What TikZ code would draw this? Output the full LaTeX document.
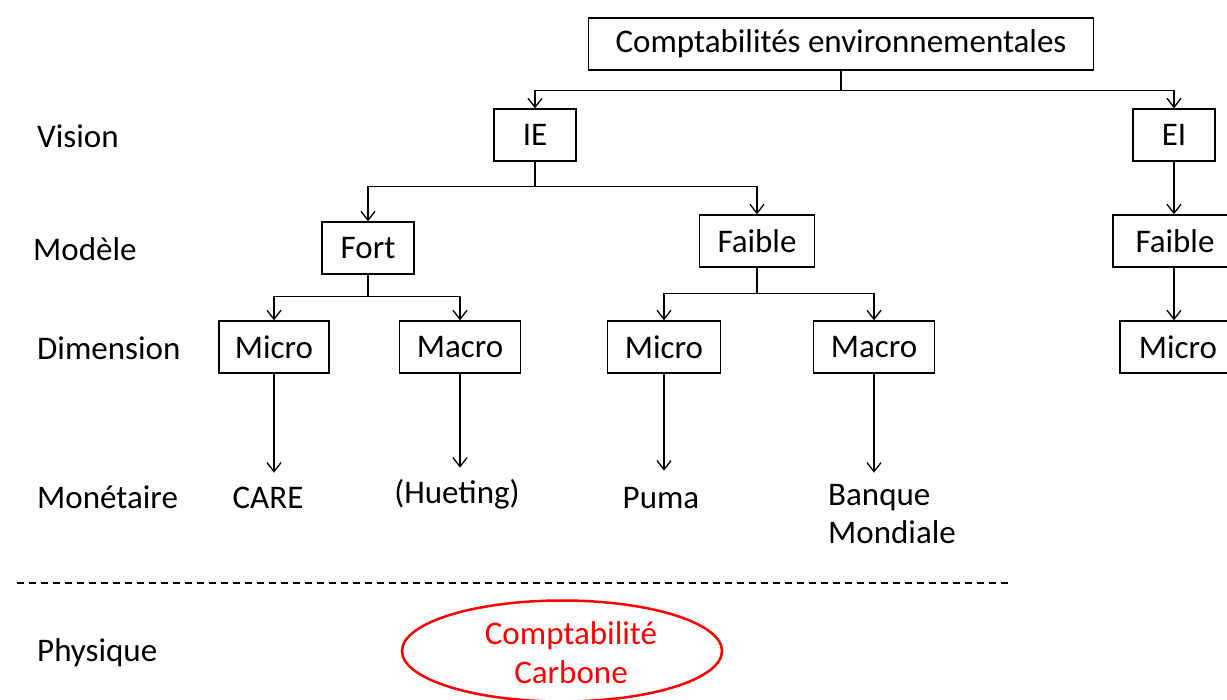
\documentclass[tikz,border=0pt]{standalone}
\usepackage{fontspec}
\setmainfont{Carlito}
\usetikzlibrary{arrows.meta,shapes.geometric}

\begin{document}
\begin{tikzpicture}[x=1pt,y=-1pt,
        txt/.style={font=\fontsize{33}{38}\selectfont},
        box/.style={txt,draw,line width=1.3pt,minimum height=52pt,inner sep=0pt},
        lbl/.style={txt,anchor=west,inner sep=0pt},
        arr/.style={line width=1.3pt,-{Straight Barb[length=9pt,width=14pt]}}]
        \useasboundingbox (0,0) rectangle (1227,700);

        % niveaux a gauche
        \node[lbl] (vision) at (37,136) {Vision};
        \node[lbl] (modele) at (33,249) {Modèle};
        \node[lbl] (dimension) at (37,348) {Dimension};
        \node[lbl] (monetaire) at (37,497) {Monétaire};
        \node[lbl] (physique) at (37,653) {Physique};

        % arbre
        \node[box,minimum width=505pt] (compta) at (841,44) {Comptabilités environnementales};
        \node[box,minimum width=82pt] (ie) at (535,135) {IE};
        \node[box,minimum width=82pt] (ei) at (1174,135) {EI};
        \node[box,minimum width=92pt] (fort) at (368,248) {Fort};
        \node[box,minimum width=115pt] (faibleIE) at (757,241) {Faible};
        \node[box,minimum width=124pt] (faibleEI) at (1175,241) {Faible};
        \node[box,minimum width=110pt] (microF) at (274,347) {Micro};
        \node[box,minimum width=121pt] (macroF) at (460,347) {Macro};
        \node[box,minimum width=113pt] (microf) at (664,347) {Micro};
        \node[box,minimum width=121pt] (macrof) at (874,347) {Macro};
        \node[box,minimum width=116pt] (microEI) at (1178,347) {Micro};

        \node[txt] (care) at (268,498) {CARE};
        \node[txt] (hueting) at (457,494) {(Hueting)};
        \node[txt] (puma) at (661,498) {Puma};
        \node[txt,anchor=west,align=left,inner sep=0pt] (banque) at (828,514) {Banque\\Mondiale};

        \draw[arr]
            (compta.south) -- ++(0,20) -| (ie.north);
        \draw[arr]
            (compta.south) -- ++(0,20) -| (ei.north);
        \draw[arr]
            (ie.south) -- ++(0,25) -| (fort.north);
        \draw[arr]
            (ie.south) -- ++(0,25) -| (faibleIE.north);
        \draw[arr] (ei.south) -- (ei.south |- faibleEI.north);
        \draw[arr]
            (fort.south) -- ++(0,22) -| (microF.north);
        \draw[arr]
            (fort.south) -- ++(0,22) -| (macroF.north);
        \draw[arr]
            (faibleIE.south) -- ++(0,26) -| (microf.north);
        \draw[arr]
            (faibleIE.south) -- ++(0,26) -| (macrof.north);
        \draw[arr] (ei.south |- faibleEI.south) -- (ei.south |- microEI.north);

        \draw[arr] (microF.south) -- ++(0,99);
        \draw[arr] (macroF.south) -- ++(0,94);
        \draw[arr] (microf.south) -- ++(0,97);
        \draw[arr] (macrof.south) -- ++(0,99);

        \draw[dashed,line width=1.3pt,dash pattern=on 7pt off 5pt]
            (17,583) -- (1010,583);

        \node[draw=red,line width=2.5pt,ellipse,
            minimum width=320pt,minimum height=101pt,inner sep=0pt] (carbone) at (562,651) {};
        \node[txt,text=red,align=center,inner sep=0pt,
            font=\fontsize{33}{39}\selectfont] (carboneTxt) at (571,653)
            {Comptabilité\\Carbone};

\end{tikzpicture}
\end{document}
